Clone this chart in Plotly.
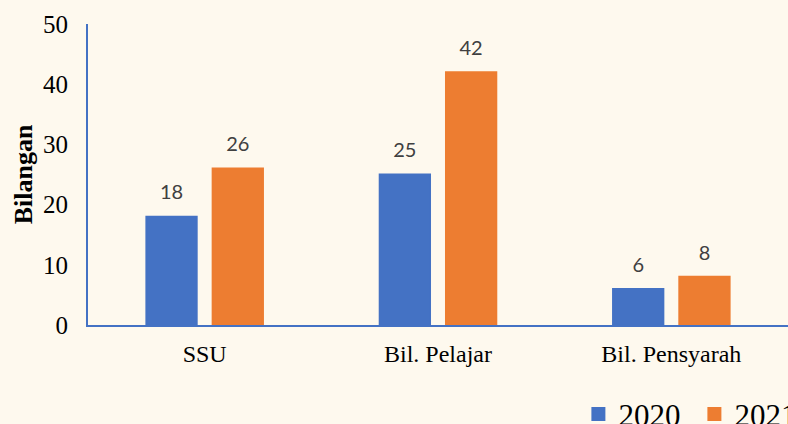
import plotly.graph_objects as go

categories = ["SSU", "Bil. Pelajar", "Bil. Pensyarah"]
series_names = ["2020", "2021"]
values_2020 = [18, 25, 6]
values_2021 = [26, 42, 8]
colors = ["#4472C4", "#ED7D31"]

BG = "#FEF9EE"
SERIF = "Liberation Serif"

fig = go.Figure()
for name, vals, col in zip(series_names, [values_2020, values_2021], colors):
    fig.add_trace(go.Bar(
        x=categories, y=vals, name=name, marker_color=col,
        offsetgroup=name, alignmentgroup="a",
        marker_line=dict(width=2, color=col),
    ))
for name, vals in zip(series_names, [values_2020, values_2021]):
    fig.add_trace(go.Scatter(
        x=categories, y=vals, mode="markers+text", text=[str(v) for v in vals],
        textposition="top center", offsetgroup=name, alignmentgroup="a",
        marker=dict(size=18, color="rgba(0,0,0,0)"),
        textfont=dict(family="Lato", size=20, color="#404040"),
        showlegend=False, hoverinfo="skip", cliponaxis=False,
    ))

fig.update_layout(
    width=788, height=424,
    paper_bgcolor=BG, plot_bgcolor=BG,
    margin=dict(l=88, r=0, t=24, b=99),
    barmode="group", scattermode="group",
    bargap=0.432, bargroupgap=0.241, scattergap=0.432,
    showlegend=True,
    legend=dict(
        orientation="h", xref="container", yref="container",
        x=0.734, y=0.023, xanchor="left", yanchor="middle",
        font=dict(family=SERIF, size=31, color="#000000"),
        bgcolor="rgba(0,0,0,0)", entrywidth=71, entrywidthmode="pixels",
    ),
    xaxis=dict(
        range=[-0.5, 2.5], showline=True, linecolor="#4472C4", linewidth=2,
        showgrid=False, zeroline=False, ticks="",
        tickfont=dict(family=SERIF, size=24, color="#000000"),
        ticklabelstandoff=6,
    ),
    yaxis=dict(
        range=[0, 50], dtick=10, showline=True, linecolor="#4472C4", linewidth=2,
        showgrid=False, zeroline=False, ticks="",
        tickfont=dict(family=SERIF, size=25, color="#000000"),
        ticklabelstandoff=13,
        title=dict(text="<b>Bilangan</b>", font=dict(family=SERIF, size=26, color="#000000"), standoff=3),
    ),
)

fig.write_html(
    "out.html",
    config={"displayModeBar": False},
    post_script="document.body.style.margin='0';document.body.style.background='%s';" % BG,
)
